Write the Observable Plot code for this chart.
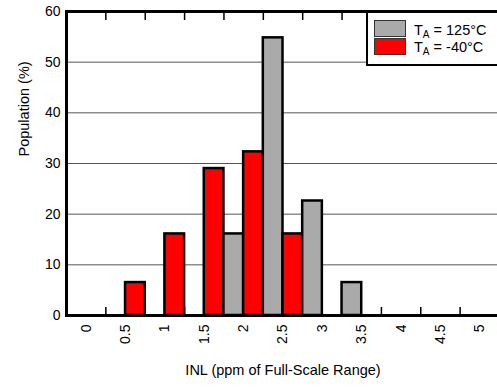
<!DOCTYPE html>
<html><head><meta charset="utf-8">
<script src="https://cdn.jsdelivr.net/npm/d3@7"></script>
<script src="https://cdn.jsdelivr.net/npm/@observablehq/plot@0.6"></script>
<style>
body{margin:0;background:#fff;font-family:Arial,"Liberation Sans",sans-serif;}
#wrap{position:relative;width:497px;height:387px;overflow:hidden;background:#fff;}
#legend{position:absolute;left:366px;top:11px;width:150px;height:55px;border:2px solid #000;box-sizing:border-box;background:#fff;}
.sw{position:absolute;left:6px;width:32px;height:17px;border:1px solid #333;box-sizing:border-box;}
.lt{position:absolute;left:46px;font-size:14.5px;line-height:14px;white-space:nowrap;color:#000;}
.lt sub{font-size:10px;vertical-align:-3px;line-height:0;}
</style></head>
<body><div id="wrap"><div id="chart"></div>
<div id="legend"></div></div>
<script>
const categories = [0, 0.5, 1, 1.5, 2, 2.5, 3, 3.5, 4, 4.5, 5];
const hot125 = [0, 0, 0, 0, 16.1, 54.8, 22.6, 6.5, 0, 0, 0];
const cold40 = [0, 6.5, 16.1, 29.0, 32.3, 16.1, 0, 0, 0, 0, 0];
const yTicks = [0, 10, 20, 30, 40, 50, 60];
const gridValues = [10, 20, 30, 40, 50];
const seriesKeys = ["hot", "cold"];
const seriesColors = ["#aaaaaa", "#ff0000"];
const seriesLabels = ["T<sub>A</sub> = 125°C", "T<sub>A</sub> = -40°C"];

const half = 0.25;
const rows = [];
categories.forEach((c, i) => {
  if (hot125[i] > 0) rows.push({cat: c, series: "hot", value: hot125[i]});
  if (cold40[i] > 0) rows.push({cat: c, series: "cold", value: cold40[i]});
});
const boundaries = categories.slice(0, -1).map(c => c + half);

const chart = Plot.plot({
  width: 497, height: 387,
  marginLeft: 66, marginRight: -2, marginTop: 11, marginBottom: 72,
  style: {fontFamily: "Arial, 'Liberation Sans', sans-serif", fontSize: "14px", color: "#000", background: "#fff", overflow: "hidden"},
  x: {type: "linear", domain: [categories[0] - half, categories[categories.length - 1] + half]},
  y: {domain: [0, 60]},
  color: {domain: seriesKeys, range: seriesColors},
  marks: [
    Plot.ruleY(gridValues, {stroke: "#555", strokeWidth: 1}),
    Plot.axisX({anchor: "bottom", ticks: boundaries, tickSize: -8, tickFormat: () => "", strokeWidth: 1.5, label: null}),
    Plot.axisX({anchor: "top", ticks: boundaries, tickSize: -8, tickFormat: () => "", strokeWidth: 1.5, label: null}),
    Plot.rect(rows, {
      x1: d => d.series === "hot" ? d.cat - half : d.cat,
      x2: d => d.series === "hot" ? d.cat : d.cat + half,
      y1: 0, y2: "value", fill: "series", stroke: "#000", strokeWidth: 2.5
    }),
    Plot.axisX({anchor: "bottom", ticks: categories, tickSize: 0, tickRotate: -90, tickPadding: 9, label: null, tickFormat: d => String(d)}),
    Plot.axisY({ticks: yTicks, tickSize: 0, tickPadding: 6, label: null}),
    Plot.text(["INL (ppm of Full-Scale Range)"], {frameAnchor: "bottom", dy: 59, fontSize: 14.5}),
    Plot.text(["Population (%)"], {frameAnchor: "left", dx: -42, dy: -7, rotate: -90, fontSize: 14.5}),
    Plot.frame({stroke: "#000", strokeWidth: 3})
  ]
});
document.getElementById("chart").appendChild(chart);

const legend = document.getElementById("legend");
seriesKeys.forEach((k, i) => {
  const sw = document.createElement("div");
  sw.className = "sw";
  sw.style.top = (7 + i * 18) + "px";
  sw.style.background = seriesColors[i];
  legend.appendChild(sw);
  const t = document.createElement("div");
  t.className = "lt";
  t.style.top = (10 + i * 17) + "px";
  t.innerHTML = seriesLabels[i];
  legend.appendChild(t);
});
</script></body></html>
